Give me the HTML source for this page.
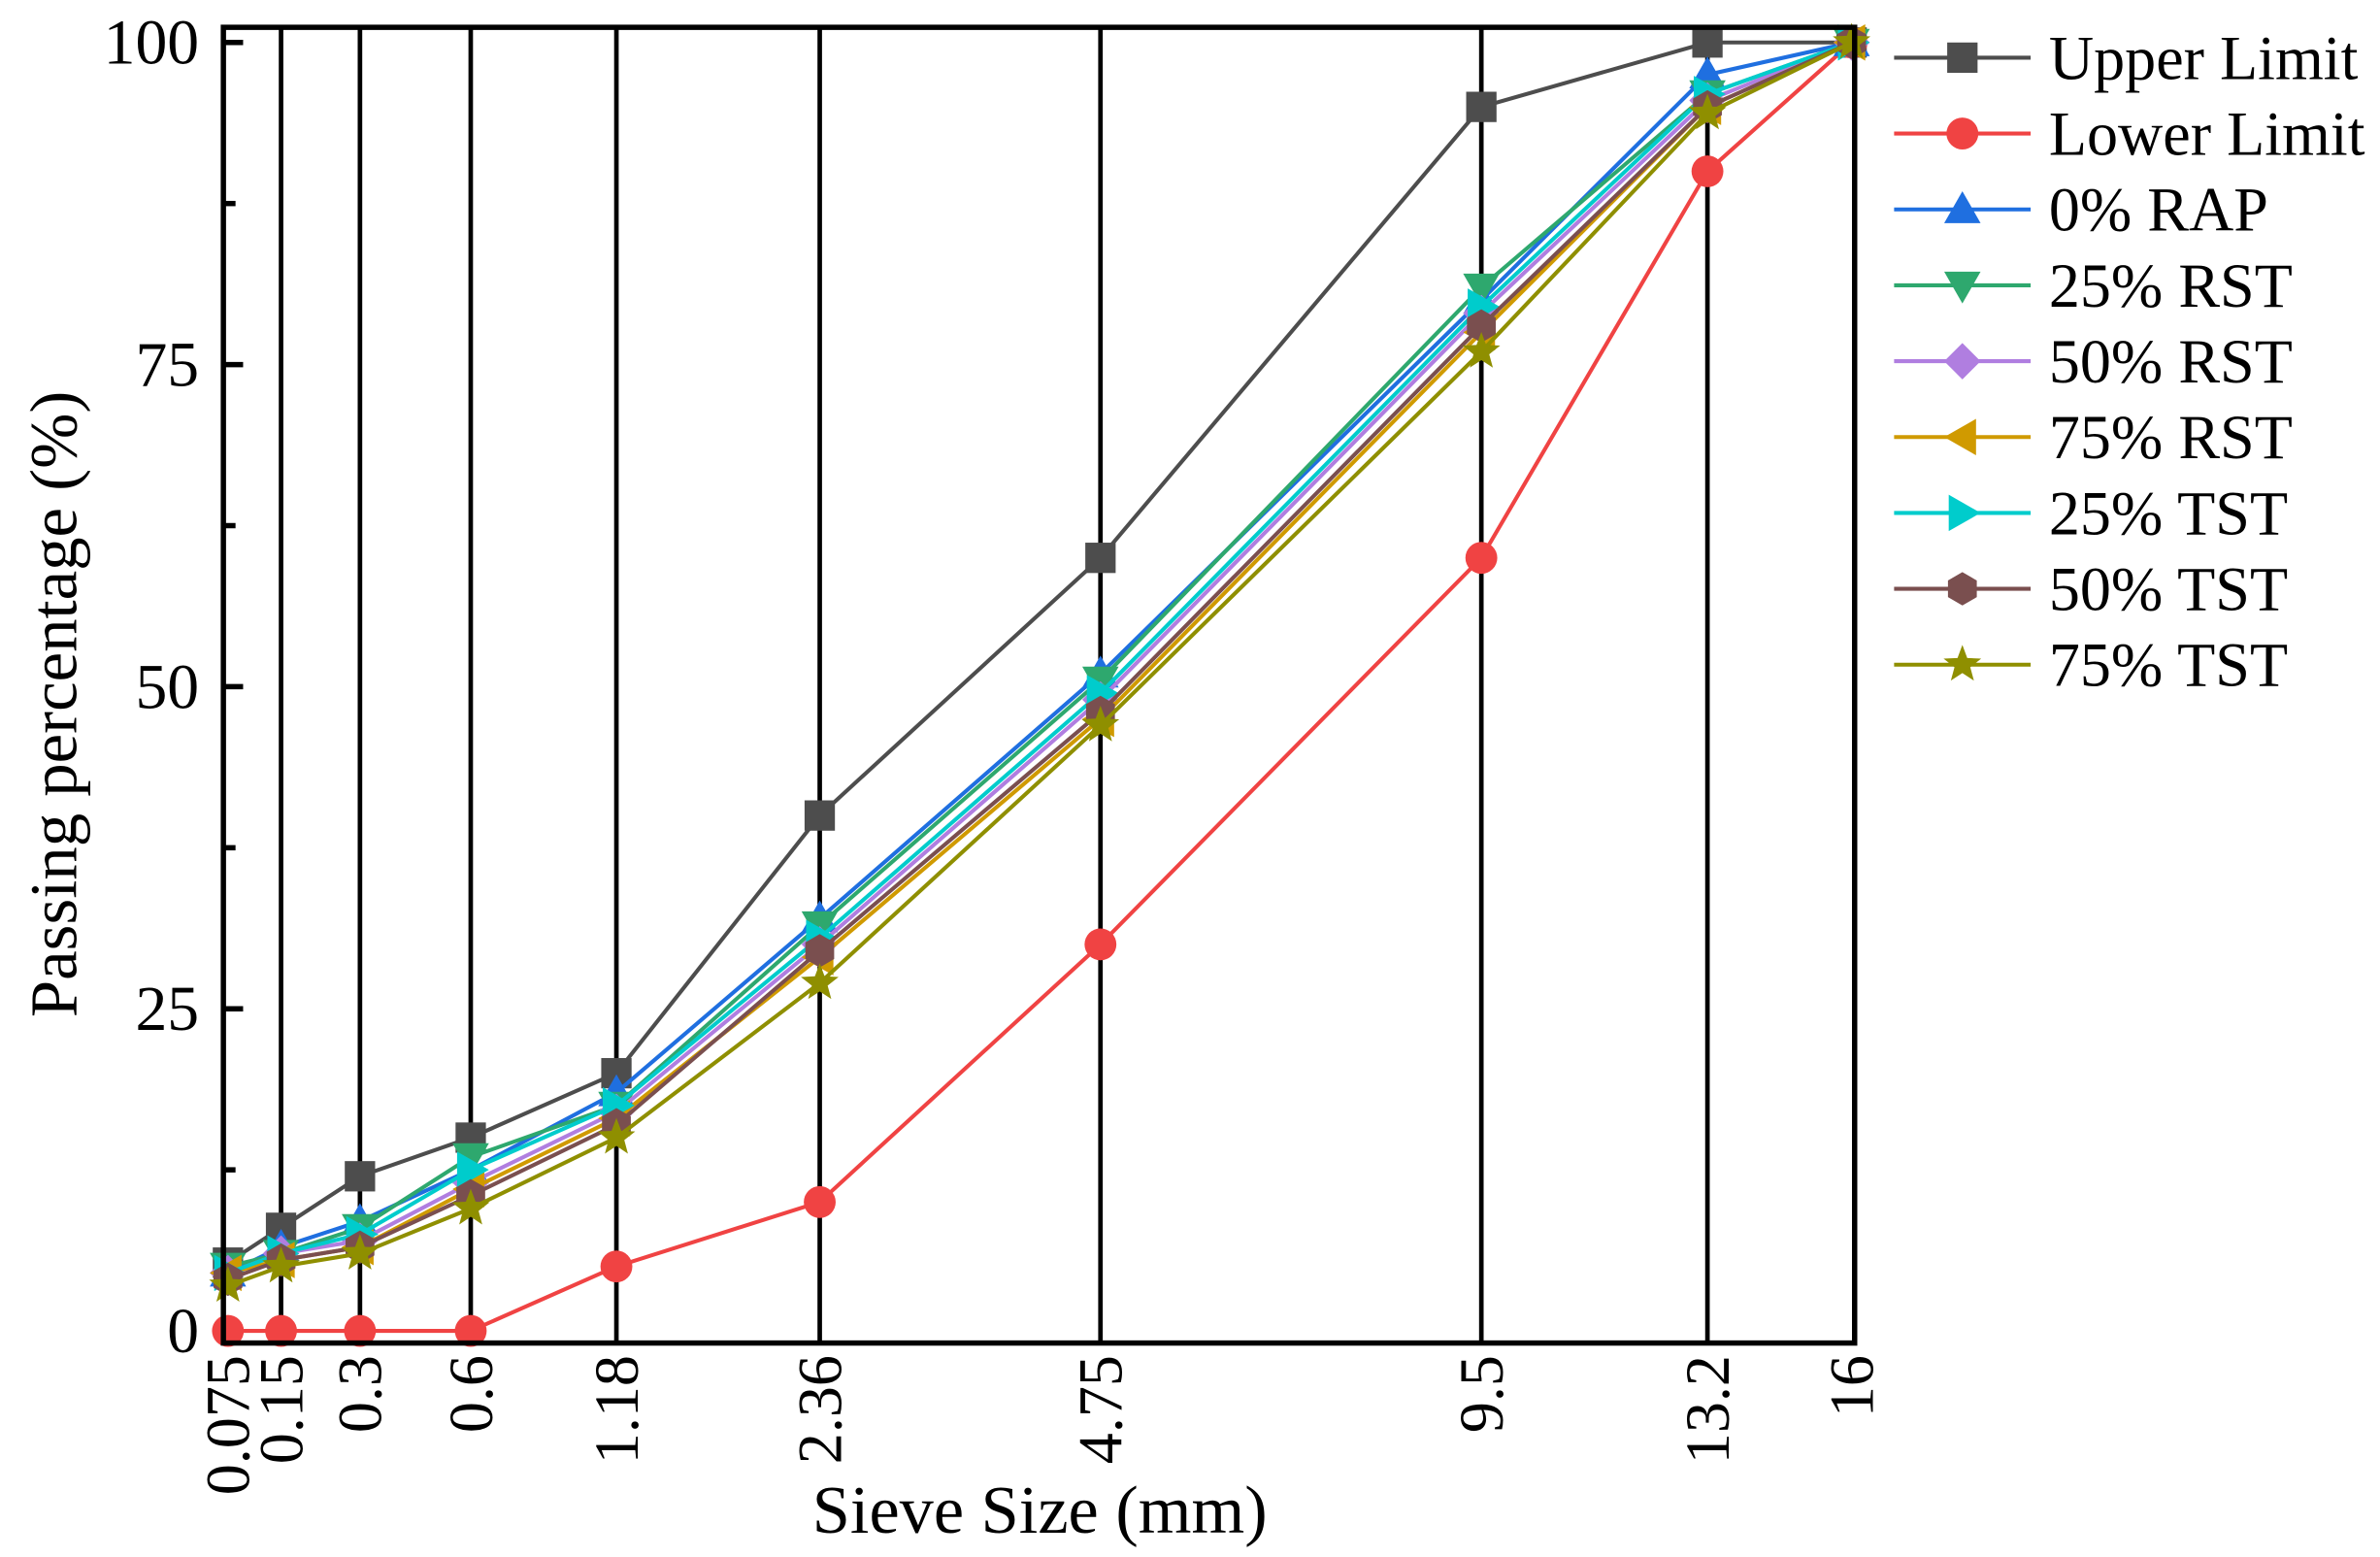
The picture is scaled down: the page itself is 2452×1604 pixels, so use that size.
<!DOCTYPE html>
<html><head><meta charset="utf-8"><style>
html,body{margin:0;padding:0;background:#fff;}
svg{display:block;}
text{font-family:"Liberation Serif",serif;fill:#000;}
</style></head><body>
<svg id="s" width="2452" height="1604" viewBox="0 0 1568 1026" xmlns="http://www.w3.org/2000/svg"></svg>
<script>
const s=document.getElementById('s');
let h='';
const xs=[150,185,237,310,406,540,725,976,1125,1220];
const labs=['0.075','0.15','0.3','0.6','1.18','2.36','4.75','9.5','13.2','16'];
const Y=v=>877-v*8.49;
for(let i=1;i<9;i++) h+=`<line x1="${xs[i]}" y1="18" x2="${xs[i]}" y2="885" stroke="#000" stroke-width="3"/>`;
for(let v=0;v<=100;v+=12.5){const major=v%25==0;h+=`<line x1="147" y1="${Y(v)}" x2="${147+(major?13:8)}" y2="${Y(v)}" stroke="#000" stroke-width="3.5"/>`;
 if(major)h+=`<text x="131" y="${Y(v)+14}" font-size="42" text-anchor="end">${v}</text>`;}
xs.forEach((x,i)=>{h+=`<text transform="translate(${x+14},893) rotate(-90)" font-size="41" text-anchor="end">${labs[i]}</text>`;});
h+=`<text x="685" y="1010" font-size="45" text-anchor="middle">Sieve Size (mm)</text>`;
h+=`<text transform="translate(50,464) rotate(-90)" font-size="44" text-anchor="middle">Passing percentage (%)</text>`;
const series=[
['Upper Limit','#4d4d4d','sq',[5.3,8,12,15,20,40,60,95,100,100]],
['Lower Limit','#f04343','ci',[0,0,0,0,5,10,30,60,90,100]],
['0% RAP','#1f6fe0','tu',[4.5,6.5,8.5,12.5,18.5,32,51,80,97.5,100]],
['25% RST','#2ea86e','td',[5,6,8,13.5,17.5,31.5,50.5,81,96,100]],
['50% RST','#b07ee0','di',[4.5,6,7,11.5,17,30,49,79,95.5,100]],
['75% RST','#d09a00','tl',[4.5,5.5,6.5,11,16.5,29,47.5,77.5,95,100]],
['25% TST','#00cccc','tr',[4.5,6,7.5,12.5,17.5,30.5,49.5,79.5,96,100]],
['50% TST','#7a4f4f','hx',[4,5.5,6.5,10.5,16,29.5,48,78,95,100]],
['75% TST','#8f8f00','st',[3.5,5,6,9.5,15,27,47,76,94.5,100]]];
function mk(t,x,y,c){const r=12;
 switch(t){
 case 'sq':return `<rect x="${x-10}" y="${y-10}" width="20" height="20" fill="${c}"/>`;
 case 'ci':return `<circle cx="${x}" cy="${y}" r="10.5" fill="${c}"/>`;
 case 'tu':return `<polygon points="${x},${y-r} ${x+r},${y+9} ${x-r},${y+9}" fill="${c}"/>`;
 case 'td':return `<polygon points="${x},${y+r} ${x+r},${y-9} ${x-r},${y-9}" fill="${c}"/>`;
 case 'tl':return `<polygon points="${x-r},${y} ${x+9},${y-r} ${x+9},${y+r}" fill="${c}"/>`;
 case 'tr':return `<polygon points="${x+r},${y} ${x-9},${y-r} ${x-9},${y+r}" fill="${c}"/>`;
 case 'di':return `<polygon points="${x},${y-r} ${x+r},${y} ${x},${y+r} ${x-r},${y}" fill="${c}"/>`;
 case 'hx':{let p=[];for(let k=0;k<6;k++){const a=Math.PI/6+k*Math.PI/3;p.push((x+11*Math.cos(a)).toFixed(1)+','+(y+11*Math.sin(a)).toFixed(1));}return `<polygon points="${p.join(' ')}" fill="${c}"/>`;}
 case 'st':{let p=[];for(let k=0;k<10;k++){const a=-Math.PI/2+k*Math.PI/5;const rr=k%2?5.5:13;p.push((x+rr*Math.cos(a)).toFixed(1)+','+(y+rr*Math.sin(a)).toFixed(1));}return `<polygon points="${p.join(' ')}" fill="${c}"/>`;}
 }}
series.forEach((sr,j)=>{const [n,c,t,d]=sr;
 h+=`<polyline points="${d.map((v,i)=>xs[i]+','+Y(v)).join(' ')}" fill="none" stroke="${c}" stroke-width="2.6"/>`;
 d.forEach((v,i)=>h+=mk(t,xs[i],Y(v),c));
 const ly=38+j*50;
 h+=`<line x1="1248" y1="${ly}" x2="1338" y2="${ly}" stroke="${c}" stroke-width="2.6"/>`+mk(t,1293,ly,c);
 h+=`<text x="1350" y="${ly+14}" font-size="41">${n}</text>`;
});
h+=`<rect x="147" y="18" width="1075" height="867" fill="none" stroke="#000" stroke-width="3.5"/>`;
s.innerHTML=h;
</script>
</body></html>
